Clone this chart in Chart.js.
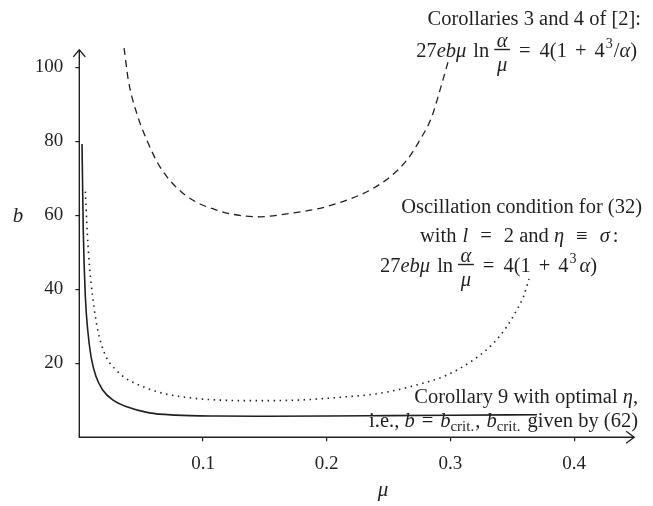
<!DOCTYPE html>
<html><head><meta charset="utf-8">
<script src="https://cdn.jsdelivr.net/npm/chart.js@4"></script>
<style>html,body{margin:0;padding:0;background:#fff;}canvas{display:block;}</style>
</head><body>
<canvas id="c" width="653" height="506"></canvas>
<script>
// Solid: Corollary 9 with optimal eta (b = b_crit)
const muSolid = [0.0022, 0.0032, 0.0049, 0.0068, 0.0095, 0.0135, 0.0189, 0.027, 0.0378, 0.0566, 0.078, 0.1105, 0.15, 0.2, 0.25, 0.3, 0.37];
const bSolid  = [79.3, 56, 38, 29, 21.8, 16.4, 12.8, 10.1, 8.3, 6.6, 6.0, 5.75, 5.7, 5.75, 5.85, 5.95, 6.1];
// Dotted: Oscillation condition for (32)
const muDotted = [0.0049, 0.0065, 0.0083, 0.0108, 0.0149, 0.0216, 0.0297, 0.0378, 0.0513, 0.0674, 0.0889, 0.1105, 0.146, 0.18, 0.21, 0.243, 0.27, 0.297, 0.3185, 0.3347, 0.3455, 0.3536, 0.359, 0.3635];
const bDotted  = [66.4, 55, 46, 38, 29, 21.8, 18.2, 15.9, 13.7, 11.9, 10.7, 10.1, 9.9, 10.1, 10.8, 11.9, 13.9, 16.8, 20.9, 25.4, 29.9, 34.4, 38, 42.8];
// Dashed: Corollaries 3 and 4 of [2]
const muDashed = [0.0362, 0.0396, 0.0464, 0.0545, 0.0652, 0.084, 0.111, 0.146, 0.1677, 0.1946, 0.2162, 0.235, 0.2512, 0.2647, 0.2754, 0.2849, 0.2916, 0.297, 0.2985];
const bDashed  = [105.2, 96.6, 87.6, 80.4, 73.1, 65.9, 61.4, 59.6, 60.4, 61.9, 64.1, 66.8, 70.4, 74.9, 80.4, 86.6, 93.9, 100.2, 102];

const xTicks = [0.1, 0.2, 0.3, 0.4];
const xTickLabels = ['0.1', '0.2', '0.3', '0.4'];
const yTicks = [20, 40, 60, 80, 100];
const yTickLabels = ['20', '40', '60', '80', '100'];
const xTitle = 'μ';
const yTitle = 'b';

const FONT = '"Liberation Serif", "Times New Roman", serif';
const INK = '#231f20';
const FS = 20.5;
const pts = (xs, ys) => xs.map((x, i) => ({x: x, y: ys[i]}));

function partFont(p){ return (p.it ? 'italic ' : '') + (p.size || FS) + 'px ' + FONT; }
function partWidth(ctx, p){
  ctx.font = partFont(p);
  let w;
  if (p.frac) w = Math.max(ctx.measureText(p.frac[0]).width, ctx.measureText(p.frac[1]).width) + 5;
  else w = ctx.measureText(p.t).width;
  return w + (p.pre || 0);
}
function drawRich(ctx, parts, x, y, align){
  let w = 0;
  parts.forEach(p => { w += partWidth(ctx, p); });
  let cx = align === 'right' ? x - w : (align === 'center' ? x - w / 2 : x);
  ctx.textBaseline = 'alphabetic';
  ctx.fillStyle = INK;
  parts.forEach(p => {
    const pw = partWidth(ctx, p);
    const pre = p.pre || 0;
    ctx.font = partFont(p);
    if (p.frac){
      const fw = pw - pre;
      ctx.textAlign = 'center';
      ctx.fillText(p.frac[0], cx + pre + fw / 2, y - 10.5);
      ctx.fillText(p.frac[1], cx + pre + fw / 2, y + 13.5);
      ctx.fillRect(cx + pre, y - 8.2, fw, 1.4);
    } else {
      ctx.textAlign = 'left';
      ctx.fillText(p.t, cx + pre, y + (p.dy || 0));
    }
    cx += pw;
  });
}

const annotations = [
  {x: 641, y: 25, align: 'right', parts: [{t: 'Corollaries 3 and 4 of [2]:'}]},
  {x: 637, y: 57, align: 'right', parts: [
    {t: '27'}, {t: 'ebμ', it: true}, {t: 'ln', pre: 7}, {frac: ['α', 'μ'], it: true, pre: 5},
    {t: '=', pre: 9}, {t: '4(1', pre: 9}, {t: '+', pre: 8}, {t: '4', pre: 8},
    {t: '3', size: 14, dy: -9, pre: 1}, {t: '/', pre: 1}, {t: 'α', it: true}, {t: ')'}]},
  {x: 642, y: 213, align: 'right', parts: [{t: 'Oscillation condition for (32)'}]},
  {x: 420, y: 242, align: 'left', parts: [
    {t: 'with '}, {t: 'l', it: true, pre: 1}, {t: '=', pre: 12}, {t: '2', pre: 12}, {t: ' and '}, {t: 'η', it: true},
    {t: '≡', pre: 12}, {t: 'σ', it: true, pre: 12}, {t: ':', pre: 3}]},
  {x: 380, y: 272, align: 'left', parts: [
    {t: '27'}, {t: 'ebμ', it: true}, {t: 'ln', pre: 7}, {frac: ['α', 'μ'], it: true, pre: 5},
    {t: '=', pre: 9}, {t: '4(1', pre: 9}, {t: '+', pre: 8}, {t: '4', pre: 8},
    {t: '3', size: 14, dy: -9, pre: 1}, {t: 'α', it: true, pre: 3}, {t: ')'}]},
  {x: 638, y: 403, align: 'right', parts: [{t: 'Corollary 9 with optimal '}, {t: 'η', it: true}, {t: ','}]},
  {x: 638, y: 427, align: 'right', parts: [
    {t: 'i.e., '}, {t: 'b', it: true}, {t: '=', pre: 7}, {t: 'b', it: true, pre: 7}, {t: 'crit.', size: 15, dy: 4},
    {t: ',', pre: 1}, {t: ' '}, {t: 'b', it: true, pre: 1}, {t: 'crit.', size: 15, dy: 4}, {t: ' given by (62)', pre: 2}]}
];

const decor = {
  id: 'decor',
  afterDraw(chart){
    const ctx = chart.ctx, xs = chart.scales.x, ys = chart.scales.y;
    const x0 = xs.getPixelForValue(0), y0 = ys.getPixelForValue(0);
    const yTop = ys.getPixelForValue(104.7), xEnd = xs.getPixelForValue(0.4485);
    ctx.save();
    ctx.strokeStyle = INK; ctx.lineWidth = 1.4; ctx.lineCap = 'butt';
    ctx.beginPath();
    ctx.moveTo(x0, y0 + 0.7); ctx.lineTo(x0, yTop);
    ctx.moveTo(x0 - 0.7, y0); ctx.lineTo(xEnd, y0);
    ctx.stroke();
    ctx.beginPath();
    ctx.moveTo(x0 - 6, yTop + 7); ctx.lineTo(x0, yTop); ctx.lineTo(x0 + 6, yTop + 7);
    ctx.moveTo(xEnd - 8, y0 - 6); ctx.lineTo(xEnd, y0); ctx.lineTo(xEnd - 8, y0 + 6);
    ctx.stroke();
    ctx.fillStyle = INK;
    ctx.font = 'italic 21px ' + FONT;
    ctx.textAlign = 'center'; ctx.textBaseline = 'alphabetic';
    ctx.fillText(yTitle, 18, 222);
    ctx.fillText(xTitle, 383, 496);
    annotations.forEach(a => drawRich(ctx, a.parts, a.x, a.y, a.align));
    ctx.restore();
  }
};

const axisCommon = {
  type: 'linear',
  border: {display: false},
  grid: {display: true, drawOnChartArea: false, drawTicks: true, tickLength: 4, color: INK, lineWidth: 1.2},
};

new Chart(document.getElementById('c'), {
  type: 'scatter',
  data: {
    datasets: [
      {data: pts(muSolid, bSolid), showLine: true, borderColor: INK, borderWidth: 1.6, pointRadius: 0, cubicInterpolationMode: 'monotone', clip: false},
      {data: pts(muDotted, bDotted), showLine: true, borderColor: INK, borderWidth: 1.6, borderDash: [1.5, 4.5], pointRadius: 0, cubicInterpolationMode: 'monotone', clip: false},
      {data: pts(muDashed, bDashed), showLine: true, borderColor: INK, borderWidth: 1.3, borderDash: [7, 5], pointRadius: 0, cubicInterpolationMode: 'monotone', clip: false}
    ]
  },
  options: {
    responsive: false, animation: false, devicePixelRatio: 1,
    layout: {padding: {left: 0, right: 17, top: 48.8, bottom: 0}},
    plugins: {legend: {display: false}, tooltip: {enabled: false}},
    scales: {
      x: Object.assign({}, axisCommon, {
        min: 0, max: 0.45,
        afterFit(s){ s.height = 68.7; },
        afterBuildTicks(s){ s.ticks = xTicks.map(v => ({value: v})); },
        ticks: {autoSkip: false, maxRotation: 0, padding: 11, color: INK, font: {family: FONT, size: 19},
          callback: (v, i) => xTickLabels[i]}
      }),
      y: Object.assign({}, axisCommon, {
        min: 0, max: 105,
        afterFit(s){ s.width = 79.3; },
        afterBuildTicks(s){ s.ticks = yTicks.map(v => ({value: v})); },
        ticks: {autoSkip: false, padding: 12, color: INK, font: {family: FONT, size: 19},
          callback: (v, i) => yTickLabels[i]}
      })
    }
  },
  plugins: [decor]
});
</script>
</body></html>
